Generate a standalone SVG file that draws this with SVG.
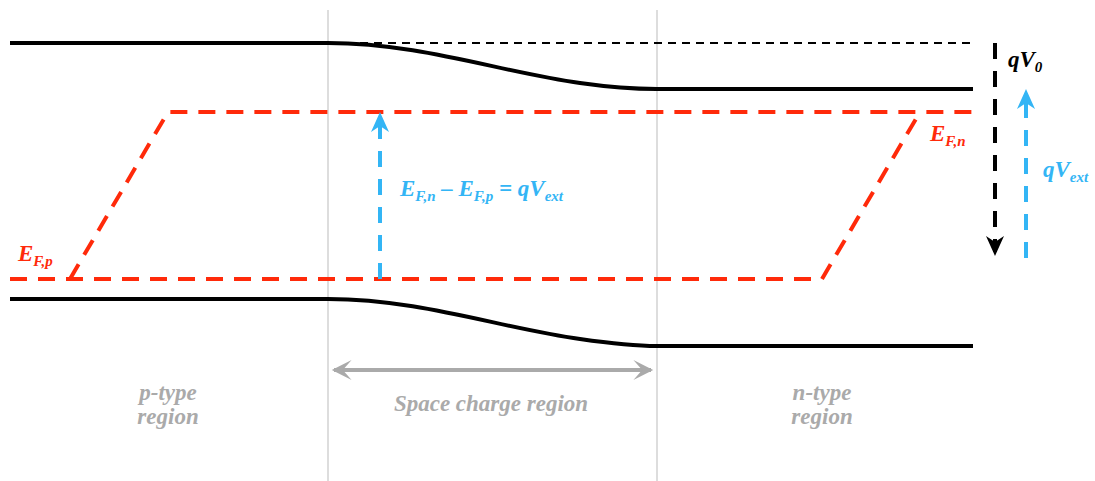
<svg xmlns="http://www.w3.org/2000/svg" width="1095" height="481" viewBox="0 0 1095 481">
<style>
.t{font-family:"Liberation Serif","Times New Roman",serif;font-style:italic;font-weight:bold}
.band{fill:none;stroke:#000;stroke-width:4}
.ef{fill:none;stroke:#ff2a0a;stroke-width:4;stroke-dasharray:17,11}
.vl{stroke:#bbb;stroke-width:1}
</style>
<defs>
<marker id="ab" viewBox="0 0 22 22" refX="16" refY="11" markerWidth="22" markerHeight="22" markerUnits="userSpaceOnUse" orient="auto-start-reverse"><path d="M0,2 L20,11 L0,20 L6,11 Z" fill="#33b5f5"/></marker>
<marker id="ak" viewBox="0 0 22 22" refX="16" refY="11" markerWidth="22" markerHeight="22" markerUnits="userSpaceOnUse" orient="auto-start-reverse"><path d="M0,2 L20,11 L0,20 L6,11 Z" fill="#000"/></marker>
<marker id="ag" viewBox="0 0 20 20" refX="16" refY="10" markerWidth="22" markerHeight="22" markerUnits="userSpaceOnUse" orient="auto-start-reverse"><path d="M0,1 L18,10 L0,19 L8,10 Z" fill="#aaa"/></marker>
</defs>
<g id="region-lines">
<line class="vl" x1="328" y1="10" x2="328" y2="481"/>
<line class="vl" x1="657" y1="10" x2="657" y2="481"/>
</g>
<g id="conduction-band">
<path class="band" d="M10,43 L328,43 C420,43 500,72 580,83 C615,88 640,89 657,89 L973,89"/>
<line x1="360" y1="43" x2="975" y2="43" stroke="#000" stroke-width="2" stroke-dasharray="8,6"/>
</g>
<g id="valence-band">
<path class="band" d="M10,299 L328,299 C420,299 500,328 580,339 C615,344 640,346 657,346 L973,346"/>
</g>
<g id="fermi-p">
<path class="ef" d="M10,279 L822,279 L920,112"/>
</g>
<g id="fermi-n">
<path class="ef" d="M70,279 L168,112 L975,112"/>
</g>
<g id="connectors">
<line x1="380" y1="279" x2="380" y2="116" stroke="#33b5f5" stroke-width="4" stroke-dasharray="16,12" marker-end="url(#ab)"/>
<line x1="995" y1="43" x2="995" y2="252" stroke="#000" stroke-width="4" stroke-dasharray="16,12" marker-end="url(#ak)"/>
<line x1="1026" y1="258" x2="1026" y2="93" stroke="#33b5f5" stroke-width="4" stroke-dasharray="16,12" marker-end="url(#ab)"/>
<line x1="334" y1="370" x2="651" y2="370" stroke="#aaa" stroke-width="4" marker-start="url(#ag)" marker-end="url(#ag)"/>
</g>
<g id="labels">
<text class="t" x="400" y="196" font-size="23" fill="#33b5f5">E<tspan font-size="15" dy="5">F,n</tspan><tspan dy="-5"> – E</tspan><tspan font-size="15" dy="5">F,p</tspan><tspan dy="-5"> = qV</tspan><tspan font-size="15" dy="5">ext</tspan></text>
<text class="t" x="1008" y="67" font-size="23" fill="#000">qV<tspan font-size="15" dy="5">0</tspan></text>
<text class="t" x="1043" y="177" font-size="23" fill="#33b5f5">qV<tspan font-size="15" dy="5">ext</tspan></text>
<text class="t" x="930" y="141" font-size="23" fill="#ff2a0a">E<tspan font-size="15" dy="5">F,n</tspan></text>
<text class="t" x="18" y="261" font-size="23" fill="#ff2a0a">E<tspan font-size="15" dy="5">F,p</tspan></text>
<text class="t" x="168" y="400" font-size="23" fill="#aaa" text-anchor="middle">p-type</text>
<text class="t" x="168" y="424" font-size="23" fill="#aaa" text-anchor="middle">region</text>
<text class="t" x="491" y="411" font-size="23" fill="#aaa" text-anchor="middle">Space charge region</text>
<text class="t" x="822" y="400" font-size="23" fill="#aaa" text-anchor="middle">n-type</text>
<text class="t" x="822" y="424" font-size="23" fill="#aaa" text-anchor="middle">region</text>
</g>
</svg>
